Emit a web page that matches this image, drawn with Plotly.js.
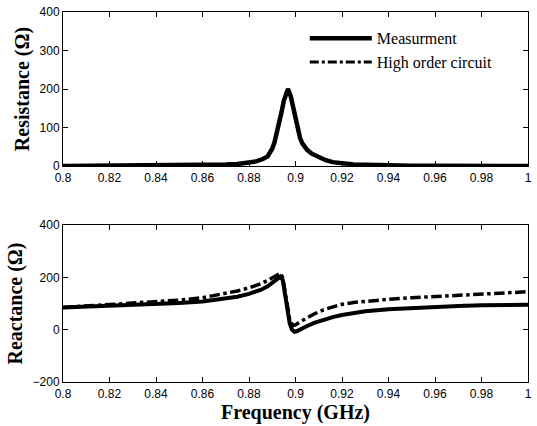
<!DOCTYPE html>
<html>
<head>
<meta charset="utf-8">
<script src="https://cdn.plot.ly/plotly-3.0.1.min.js"></script>
<style>html,body{margin:0;padding:0;background:#fff;}#chart{width:537px;height:426px;}</style>
</head>
<body>
<div id="chart"></div>
<script>
// Resistance (top panel)
const freqR = [0.80,0.82,0.84,0.86,0.865,0.87,0.875,0.88,0.883,0.886,0.888,0.889,0.890,0.891,0.892,0.893,0.894,0.895,0.896,0.8968,0.898,0.899,0.900,0.901,0.902,0.903,0.905,0.907,0.910,0.913,0.916,0.920,0.925,0.930,0.935,0.940,0.950,0.960,0.980,1.00];
const resMeas = [0,0.5,1,2,3,4,5,8,12,18,25,35,45,62,85,110,140,170,192,200,180,150,118,92,72,58,42,32,22,15,10,7,4,3,2,1,0.5,0.5,0.3,0];
const resHigh = [0,0.5,1,2,3,4,5,8,12,18,25,35,45,62,85,110,140,170,192,200,180,150,118,92,72,58,42,32,22,15,10,7,4,3,2,1,0.5,0.5,0.3,0];

// Reactance (bottom panel)
const freqXm = [0.80,0.81,0.82,0.83,0.84,0.85,0.86,0.87,0.875,0.88,0.885,0.888,0.89,0.892,0.8935,0.8945,0.8955,0.8965,0.8975,0.8985,0.8995,0.9005,0.902,0.905,0.908,0.912,0.916,0.92,0.925,0.93,0.94,0.95,0.96,0.97,0.98,0.99,1.00];
const reactMeas = [85,88,91,94,97,102,108,118,126,137,152,166,180,195,203,190,140,80,25,0,-8,-6,2,14,26,38,48,56,64,70,78,83,87,90,93,94,95];
const freqXh = [0.80,0.81,0.82,0.83,0.84,0.85,0.86,0.87,0.875,0.88,0.885,0.888,0.89,0.892,0.8935,0.8945,0.8955,0.8965,0.8975,0.8988,0.900,0.902,0.905,0.908,0.912,0.916,0.92,0.925,0.93,0.94,0.95,0.96,0.97,0.98,0.99,1.00];
const reactHigh = [85,90,95,100,106,113,122,138,148,160,175,188,198,210,216,200,150,90,40,16,18,30,46,60,76,88,97,104,109,116,122,127,132,137,141,145];

// Axis ticks
const xTickVals = [0.8,0.82,0.84,0.86,0.88,0.9,0.92,0.94,0.96,0.98,1.0];
const xTickText = ['0.8','0.82','0.84','0.86','0.88','0.9','0.92','0.94','0.96','0.98','1'];
const yTopTicks = [0,100,200,300,400];
const yBotTicks = [-200,0,200,400];

const names = ['Measurment','High order circuit'];

const traces = [
  {x: freqR, y: resMeas, xaxis:'x', yaxis:'y', name: names[0], mode:'lines', line:{color:'#000', width:4.5}, showlegend:true, legendgroup:'m'},
  {x: freqR, y: resHigh, xaxis:'x', yaxis:'y', name: names[1], mode:'lines', line:{color:'#000', width:3, dash:'dashdot'}, showlegend:true, legendgroup:'h'},
  {x: freqXm, y: reactMeas, xaxis:'x2', yaxis:'y2', name: names[0], mode:'lines', line:{color:'#000', width:4}, showlegend:false, legendgroup:'m'},
  {x: freqXh, y: reactHigh, xaxis:'x2', yaxis:'y2', name: names[1], mode:'lines', line:{color:'#000', width:3.5, dash:'dashdot'}, showlegend:false, legendgroup:'h'}
];

const tickFont = {family:'Liberation Sans, Arial, sans-serif', size:12, color:'#000'};
const titleFont = {family:'Liberation Serif, Times New Roman, serif', size:20, color:'#000', weight:'bold'};

const xCommon = {range:[0.8,1.0], tickvals:xTickVals, ticktext:xTickText, ticks:'inside', ticklen:5, mirror:'ticks',
  showline:true, linecolor:'#000', linewidth:1, showgrid:false, zeroline:false, tickfont:tickFont, tickcolor:'#000', ticklabelstandoff:1};
const yCommon = {ticks:'inside', ticklen:5, mirror:'ticks', showline:true, linecolor:'#000', linewidth:1,
  showgrid:false, zeroline:false, tickfont:tickFont, tickcolor:'#000'};

const layout = {
  width:537, height:426,
  margin:{l:63, r:9, t:12, b:44},
  paper_bgcolor:'#fff', plot_bgcolor:'#fff',
  showlegend:true,
  legend:{x:0.52, y:0.975, xanchor:'left', yanchor:'top', bgcolor:'rgba(0,0,0,0)',
    font:{family:'Liberation Serif, Times New Roman, serif', size:16, color:'#000'}, tracegroupgap:0, itemwidth:62},
  xaxis: Object.assign({}, xCommon, {domain:[0,1], anchor:'y'}),
  yaxis: Object.assign({}, yCommon, {domain:[0.5838,1], anchor:'x', range:[0,400], tickvals:yTopTicks,
    title:{text:'Resistance (Ω)', font:titleFont, standoff:4}}),
  xaxis2: Object.assign({}, xCommon, {domain:[0,1], anchor:'y2',
    title:{text:'Frequency (GHz)', font:titleFont, standoff:4}}),
  yaxis2: Object.assign({}, yCommon, {domain:[0,0.4243], anchor:'x2', range:[-200,400], tickvals:yBotTicks,
    title:{text:'Reactance (Ω)', font:titleFont, standoff:4}})
};

Plotly.newPlot('chart', traces, layout, {displayModeBar:false, staticPlot:true});
</script>
</body>
</html>
